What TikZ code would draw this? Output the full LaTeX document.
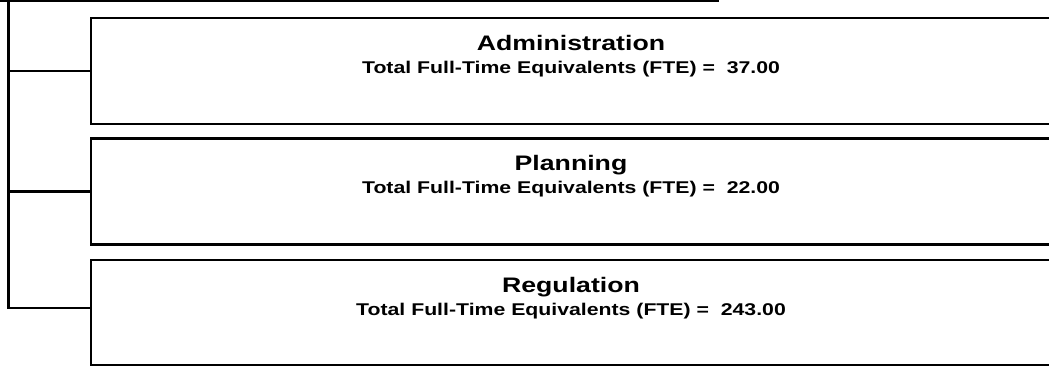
\documentclass[tikz,border=0pt]{standalone}
\usepackage{fontspec}
\setmainfont{Liberation Sans}
\usetikzlibrary{calc}
\begin{document}
\begin{tikzpicture}[x=1pt,y=-1pt,
  unitbox/.style={draw=black, line width=2.4pt, rectangle, anchor=north west,
    minimum width=1000pt, minimum height=#1, inner sep=0pt},
  rootbox/.style={draw=black, line width=2.6pt, rectangle, anchor=south east,
    minimum width=800pt, minimum height=60pt, inner sep=0pt},
  titletext/.style={font=\bfseries\fontsize{21}{25}\selectfont, anchor=base, inner sep=0pt},
  subtext/.style={font=\bfseries\fontsize{17}{20}\selectfont, anchor=base, inner sep=0pt},
  conn/.style={draw=black, line width=2.4pt}]
\useasboundingbox (0,0) rectangle (1049,365);
% parent box (cut off at top)
\node[rootbox] (root) at (719,2) {};
% unit boxes
\node[unitbox=106pt] (adm) at (90,17) {};
\node[unitbox=106pt] (pla) at (90,137.3) {};
\node[unitbox=105pt] (reg) at (90,259) {};
% texts
\node[titletext] (admt) at ($(adm.north west)+(481,33)$) {\scalebox{1.27}[1]{Administration}};
\node[subtext] (adms) at ($(adm.north west)+(481,56)$) {\scalebox{1.25}[1]{Total Full-Time Equivalents (FTE) =\ \ 37.00}};
\node[titletext] (plat) at ($(pla.north west)+(481,33)$) {\scalebox{1.27}[1]{Planning}};
\node[subtext] (plas) at ($(pla.north west)+(481,56)$) {\scalebox{1.25}[1]{Total Full-Time Equivalents (FTE) =\ \ 22.00}};
\node[titletext] (regt) at ($(reg.north west)+(481,33)$) {\scalebox{1.27}[1]{Regulation}};
\node[subtext] (regs) at ($(reg.north west)+(481,56)$) {\scalebox{1.25}[1]{Total Full-Time Equivalents (FTE) =\ \ 243.00}};
% connectors
\coordinate (trunktop) at (8.5,1);
\draw[conn] (trunktop) |- ([yshift=4.5pt]reg.west);
\draw[conn] (trunktop |- adm.west) -- (adm.west);
\draw[conn] (trunktop |- pla.west) -- (pla.west);
\end{tikzpicture}
\end{document}
